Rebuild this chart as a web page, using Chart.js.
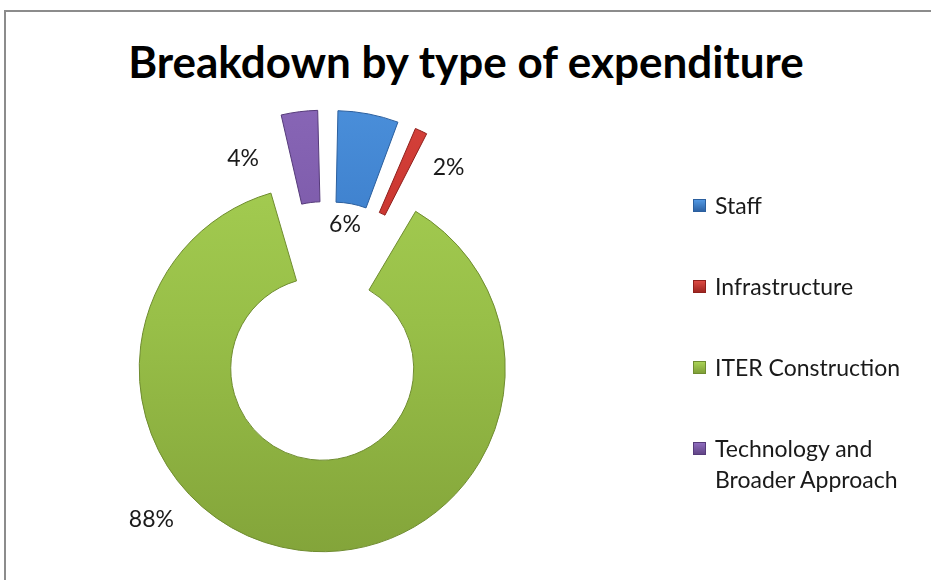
<!DOCTYPE html>
<html>
<head>
<meta charset="utf-8">
<title>Breakdown by type of expenditure</title>
<script src="https://cdn.jsdelivr.net/npm/chart.js@4.4.1/dist/chart.umd.min.js"></script>
<style>
  html, body { margin: 0; padding: 0; background: #fff; }
  body { width: 931px; height: 580px; position: relative; overflow: hidden; font-family: Lato, 'Open Sans', sans-serif; }
  #frame { position: absolute; left: 4px; top: 10px; width: 1000px; height: 700px; border-top: 2px solid #8c8c8c; border-left: 2px solid #8c8c8c; }
  #title { position: absolute; left: 0; top: 35px; width: 932px; text-align: center; font-weight: bold; font-size: 44px; line-height: 1.2; color: #000; }
  #chart { position: absolute; left: 0; top: 0; }
  #legend { position: absolute; left: 693px; top: 190px; width: 225px; font-size: 23px; line-height: 31px; color: #1a1a1a; }
  .item { position: relative; padding-left: 22px; margin-bottom: 50px; }
  .swatch { position: absolute; left: 0; top: 9px; width: 13px; height: 13px; box-sizing: border-box; }
</style>
</head>
<body>
<div id="frame"></div>
<div id="title">Breakdown by type of expenditure</div>
<canvas id="chart" width="931" height="580"></canvas>
<div id="legend"></div>
<script>
// ========================================
// Daten
// ========================================
const categories = ['Staff', 'Infrastructure', 'ITER Construction', 'Technology and Broader Approach'];
const shares = [6, 2, 88, 4];
const shareLabels = ['6%', '2%', '88%', '4%'];

// Farben (hell, mittel, dunkel) je Segment
const sliceColors = [
    ['#5298e2', '#3c7ecb', '#2d63a6'],
    ['#dc4a43', '#c8332d', '#9e2520'],
    ['#a9d255', '#98bf48', '#7f9f37'],
    ['#8e6cbd', '#7c5aa9', '#624587']
];
const edgeColors = ['#2b5f9e', '#8f201c', '#6f8c30', '#563b7a'];

// Lage der Prozent-Beschriftungen: Drehung (Grad) und Abstand (x Aussenradius)
const labelSpots = [
    { turn: -1.2, dist: 0.59 },
    { turn: 11.4, dist: 1.115 },
    { turn: 35.7, dist: 1.41 },
    { turn: -18.7, dist: 1.05 }
];

// Legende
const legendEl = document.getElementById('legend');
categories.forEach((name, i) => {
    const item = document.createElement('div');
    item.className = 'item';
    const sw = document.createElement('span');
    sw.className = 'swatch';
    sw.style.background = `linear-gradient(${sliceColors[i][0]}, ${sliceColors[i][2]})`;
    sw.style.border = `1px solid ${edgeColors[i]}`;
    item.appendChild(sw);
    item.appendChild(document.createTextNode(name));
    legendEl.appendChild(item);
});

// Verlauf von oben nach unten ueber die ganze Grafik
function sliceFill(context) {
    const chart = context.chart;
    const area = chart.chartArea;
    const c = sliceColors[context.dataIndex];
    if (!area) return c[1];
    const g = chart.ctx.createLinearGradient(0, area.top - 60, 0, area.bottom + 20);
    g.addColorStop(0, c[0]);
    g.addColorStop(0.45, c[1]);
    g.addColorStop(1, c[2]);
    return g;
}

// Chart.js vergroessert explodierte Segmente zusaetzlich - wieder abziehen
const explodeFix = {
    id: 'explodeFix',
    afterDatasetsUpdate(chart) {
        chart.getDatasetMeta(0).data.forEach(arc => {
            const t = (arc.options.offset || 0) / 4;
            const fix = 1 - Math.sin(Math.min(Math.PI, arc.circumference));
            arc.outerRadius -= t * fix;
            arc.innerRadius -= t * fix;
        });
    }
};

// Prozentwerte neben die Segmente schreiben
const shareLabelPlugin = {
    id: 'shareLabels',
    afterDatasetsDraw(chart) {
        const meta = chart.getDatasetMeta(0);
        const R = meta.controller.outerRadius;
        const ctx = chart.ctx;
        ctx.save();
        ctx.font = '23px Lato, "Open Sans", sans-serif';
        ctx.fillStyle = '#1a1a1a';
        ctx.textAlign = 'center';
        ctx.textBaseline = 'middle';
        meta.data.forEach((arc, i) => {
            const spot = labelSpots[i];
            const mid = (arc.startAngle + arc.endAngle) / 2 + spot.turn * Math.PI / 180;
            ctx.fillText(shareLabels[i], arc.x + Math.cos(mid) * spot.dist * R, arc.y + Math.sin(mid) * spot.dist * R);
        });
        ctx.restore();
    }
};

new Chart(document.getElementById('chart'), {
    type: 'doughnut',
    data: {
        labels: categories,
        datasets: [{
            data: shares,
            backgroundColor: sliceFill,
            borderColor: edgeColors,
            borderWidth: 1,
            offset: 152,
            clip: false
        }]
    },
    options: {
        responsive: false,
        animation: false,
        radius: 183,
        cutout: '50%',
        layout: { padding: { left: 130, right: 407, top: 120, bottom: 38 } },
        plugins: {
            legend: { display: false },
            title: { display: false },
            tooltip: { enabled: false }
        },
        events: []
    },
    plugins: [explodeFix, shareLabelPlugin]
});
</script>
</body>
</html>
